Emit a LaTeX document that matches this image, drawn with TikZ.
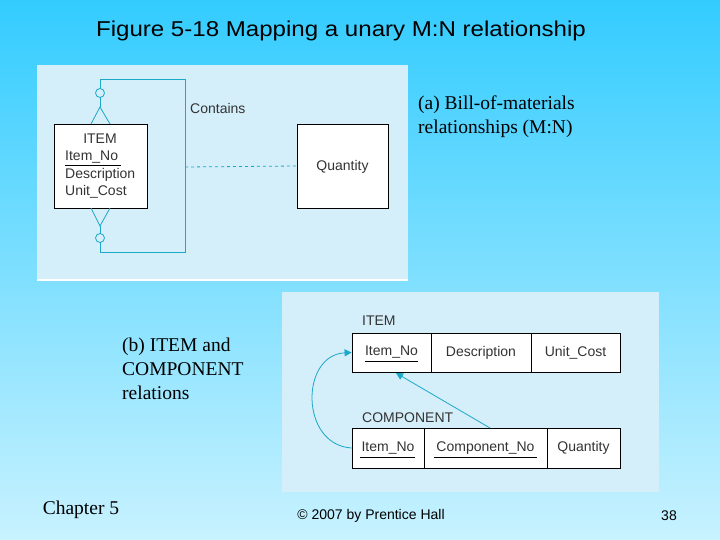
\documentclass[tikz,border=0pt]{standalone}
\usepackage{fontspec}
\setmainfont{Liberation Serif}
\newfontfamily\arialf{Liberation Sans}
\usetikzlibrary{arrows.meta}
\definecolor{bgtop}{HTML}{33CCFF}
\definecolor{bgbot}{HTML}{C8F2FF}
\definecolor{panel}{HTML}{D4EEFA}
\definecolor{teal}{HTML}{1CA8C8}
\begin{document}
\begin{tikzpicture}[x=1pt,y=-1pt,
  ent/.style={draw=black,fill=white,line width=0.8pt,inner sep=0pt},
  lab/.style={font=\arialf\fontsize{14}{16}\selectfont,text=black!80,inner sep=0pt},
  big/.style={font=\fontsize{19.5}{24}\selectfont,align=left,anchor=north west,inner sep=0pt},
  tl/.style={draw=teal,line width=0.8pt}]
\useasboundingbox (0,0) rectangle (720,540);
\shade[top color=bgtop,bottom color=bgbot] (0,0) rectangle (720,540);
\node[font=\arialf\fontsize{21.5}{24}\selectfont,xscale=1.12] (title) at (341,31) {Figure 5-18 Mapping a unary M:N relationship};
% panel a
\fill[panel] (37,65) rectangle (408,280);
\draw[white,line width=1.5pt] (37,280) -- (408,280);
\node[ent,minimum width=93pt,minimum height=84pt] (item) at (100.5,166) {};
\node[lab] (it) at (100,139) {ITEM};
\node[lab,anchor=west] (ino) at (65,157) {Item\_No};
\draw (65,165.5) -- (121,165.5);
\node[lab,anchor=west] (desc) at (65,175) {Description};
\node[lab,anchor=west] (uc) at (65,192) {Unit\_Cost};
\node[ent,minimum width=91pt,minimum height=84pt] (qty) at (342.5,166) {};
\node[lab] (ql) at (342.5,167) {Quantity};
\node[lab,anchor=west] (cont) at (190,108) {Contains};
\coordinate (t1) at (100,107); \coordinate (b1) at (100,226);
\coordinate (lt) at (185,79); \coordinate (lb) at (185,252);
\coordinate (dm) at (185,167);
\draw[tl] (t1) -- (100,79) -- (lt) -- (lb) -- (100,252) -- (b1);
\draw[tl,fill=panel] (100,93) circle (4.5);
\draw[tl,fill=panel] (100,238) circle (4.5);
\draw[tl] (91,124) -- (t1) -- (110,124);
\draw[tl] (91,208) -- (b1) -- (110,208);
\draw[tl,dashed] (dm) -- (qty.west);
\node[big] (la) at (418,96) {(a) Bill-of-materials\\relationships (M:N)};
% panel b
\fill[panel] (282,292) rectangle (659,492);
\node[lab,anchor=west] (il) at (362,321) {ITEM};
\node[ent,minimum width=79pt,minimum height=39pt] (r1) at (391.5,352.5) {};
\node[ent,minimum width=100pt,minimum height=39pt] (r2) at (481,352.5) {};
\node[ent,minimum width=89pt,minimum height=39pt] (r3) at (575.5,352.5) {};
\node[lab] at (r1) {Item\_No};
\draw (365,361) -- (418,361);
\node[lab] at (r2) {Description};
\node[lab] at (r3) {Unit\_Cost};
\node[lab,anchor=west] (cl) at (362,418) {COMPONENT};
\node[ent,minimum width=72pt,minimum height=40pt] (c1) at (388,448) {};
\node[ent,minimum width=123pt,minimum height=40pt] (c2) at (485.5,448) {};
\node[ent,minimum width=73pt,minimum height=40pt] (c3) at (583.5,448) {};
\node[lab] at (c1) {Item\_No};
\draw (360,457) -- (415,457);
\node[lab] at (c2) {Component\_No};
\draw (434,457) -- (537,457);
\node[lab] at (c3) {Quantity};
\draw[tl,-{Triangle[length=7pt,width=7pt]}] (c1.west) .. controls (300,445) and (300,355) .. (r1.west);
\draw[tl,-{Triangle[length=7pt,width=7pt]}] (490,428) -- (396,373);
\node[big] (lb2) at (122,338) {(b) ITEM and\\COMPONENT\\relations};
\node[font=\fontsize{19.5}{22}\selectfont] (ch) at (81,510) {Chapter 5};
\node[font=\arialf\fontsize{14}{16}\selectfont] (cp) at (371,516) {© 2007 by Prentice Hall};
\node[font=\arialf\fontsize{14}{16}\selectfont] (pg) at (669,516) {38};
\end{tikzpicture}
\end{document}
